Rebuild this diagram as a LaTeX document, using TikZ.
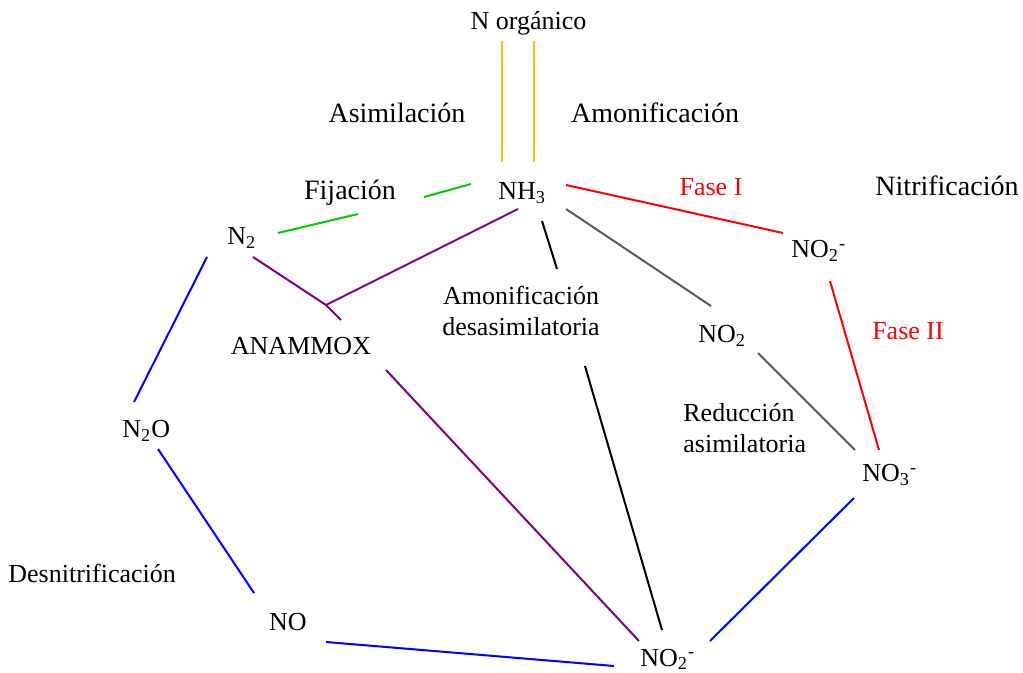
\documentclass[tikz,border=0pt]{standalone}
\usepackage{fontspec}
\setmainfont{Liberation Serif}
\definecolor{corange}{RGB}{255,192,0}
\definecolor{cgreen}{RGB}{0,204,0}
\definecolor{cpurple}{RGB}{128,0,128}
\definecolor{cgray}{RGB}{90,90,90}
\definecolor{cred}{RGB}{255,0,0}
\definecolor{cblue}{RGB}{0,0,255}
\begin{document}
\begin{tikzpicture}[x=0.5pt,y=-0.5pt,
  lbl/.style={inner sep=0pt,anchor=base,font=\fontsize{13}{15}\selectfont},
  big/.style={inner sep=0pt,anchor=base,font=\fontsize{14}{16}\selectfont},
  link/.style={line width=1pt}]
\useasboundingbox (0,0) rectangle (1023,673);
% text nodes
\node[lbl] (norg) at (528.5,30) {N orgánico};
\node[big] (asim) at (397,123) {Asimilación};
\node[big] (amon) at (655,123) {Amonificación};
\node[big] (fij) at (350,200) {Fijación};
\node[lbl,anchor=base west] (nh3) at (498,200) {NH\textsubscript{3}};
\node[lbl,text=cred] (fase1) at (711,196) {Fase I};
\node[big] (nitr) at (947,196) {Nitrificación};
\node[lbl,anchor=base west] (n2) at (227,245) {N\textsubscript{2}};
\node[lbl,anchor=base west] (no2a) at (791,258) {NO\textsubscript{2}\textsuperscript{-}};
\node[lbl] (amd1) at (521,305) {Amonificación};
\node[lbl] (amd2) at (521,336) {desasimilatoria};
\node[lbl] (anam) at (301,355) {ANAMMOX};
\node[lbl,anchor=base west] (no2) at (698,343) {NO\textsubscript{2}};
\node[lbl,text=cred] (fase2) at (908,340) {Fase II};
\node[lbl,anchor=base west] (red1) at (683,422) {Reducción};
\node[lbl,anchor=base west] (red2) at (683,453) {asimilatoria};
\node[lbl,anchor=base west] (no3) at (862,482) {NO\textsubscript{3}\textsuperscript{-}};
\node[lbl,anchor=base west] (n2o) at (122,438) {N\textsubscript{2}O};
\node[lbl,anchor=base west] (desn) at (8,582) {Desnitrificación};
\node[lbl] (no) at (288,630) {NO};
\node[lbl,anchor=base west] (no2b) at (640,666) {NO\textsubscript{2}\textsuperscript{-}};
% connector end points
\coordinate (o1a) at (502,41);  \coordinate (o1b) at (502,162);
\coordinate (o2a) at (534,41);  \coordinate (o2b) at (534,162);
\coordinate (g1a) at (278,233); \coordinate (g1b) at (358,214);
\coordinate (g2a) at (424,197); \coordinate (g2b) at (471,184);
\coordinate (p1) at (253,257);  \coordinate (pj) at (326,305);
\coordinate (p2) at (518,209);  \coordinate (p3) at (341,320);
\coordinate (p4) at (386,370);  \coordinate (p5) at (639,641);
\coordinate (k1) at (542,221);  \coordinate (k2) at (557,269);
\coordinate (k3) at (585,366);  \coordinate (k4) at (662,630);
\coordinate (y1) at (566,209);  \coordinate (y2) at (711,306);
\coordinate (y3) at (758,353);  \coordinate (y4) at (855,450);
\coordinate (r1) at (566,185);  \coordinate (r2) at (783,233);
\coordinate (r3) at (830,281);  \coordinate (r4) at (879,450);
\coordinate (b1) at (207,257);  \coordinate (b2) at (134,402);
\coordinate (b3) at (158,449);  \coordinate (b4) at (254,593);
\coordinate (b5) at (326,642);  \coordinate (b6) at (614,666);
\coordinate (b7) at (710,641);  \coordinate (b8) at (854,498);
% connectors
\draw[link,corange] (o1a) -- (o1b);
\draw[link,corange] (o2a) -- (o2b);
\draw[link,cgreen] (g1a) -- (g1b);
\draw[link,cgreen] (g2a) -- (g2b);
\draw[link,cpurple] (p1) -- (pj) -- (p2);
\draw[link,cpurple] (pj) -- (p3);
\draw[link,cpurple] (p4) -- (p5);
\draw[link,black] (k1) -- (k2);
\draw[link,black] (k3) -- (k4);
\draw[link,cgray] (y1) -- (y2);
\draw[link,cgray] (y3) -- (y4);
\draw[link,cred] (r1) -- (r2);
\draw[link,cred] (r3) -- (r4);
\draw[link,cblue] (b1) -- (b2);
\draw[link,cblue] (b3) -- (b4);
\draw[link,cblue] (b5) -- (b6);
\draw[link,cblue] (b7) -- (b8);
\end{tikzpicture}
\end{document}
